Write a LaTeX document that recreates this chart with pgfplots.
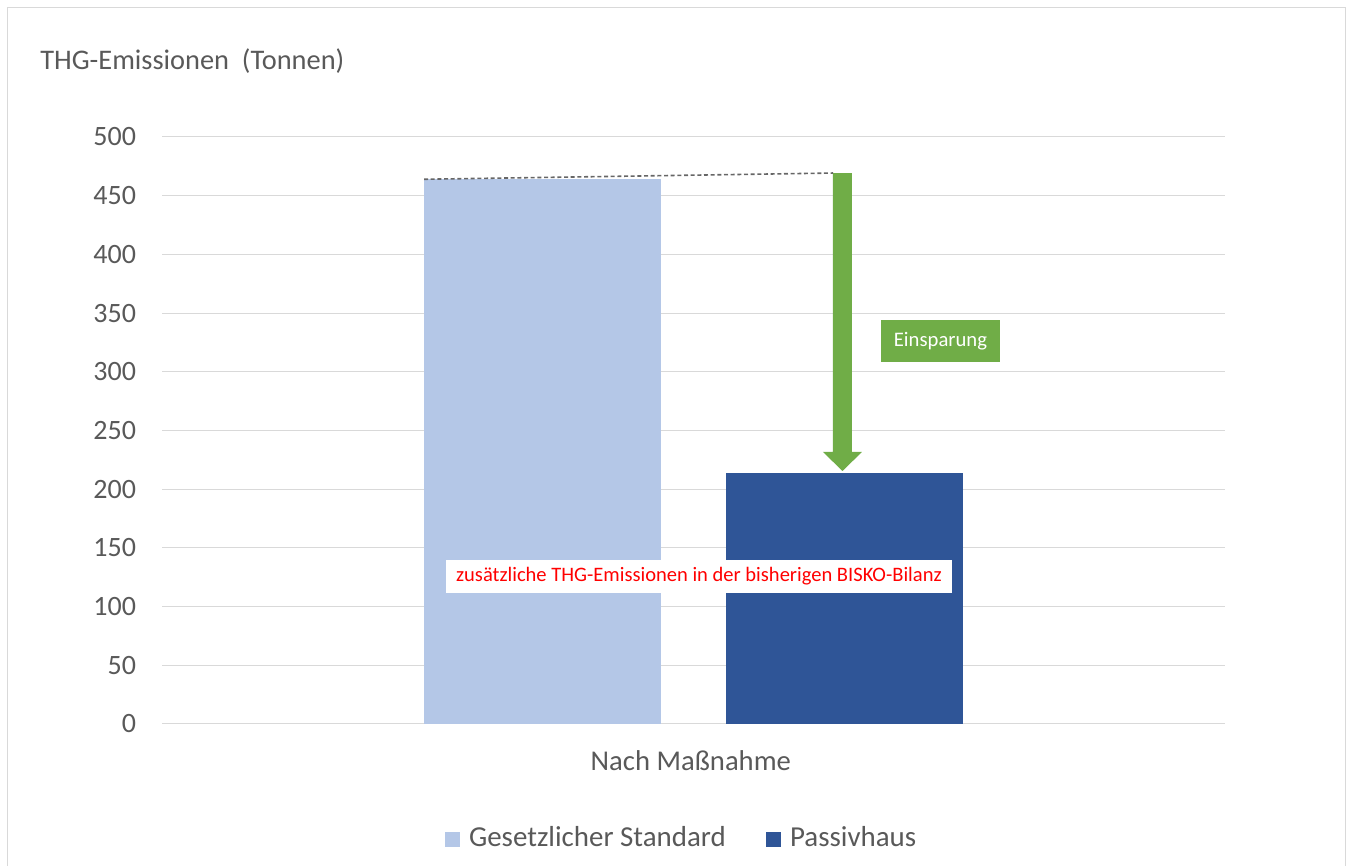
\documentclass[border=0pt]{standalone}
\usepackage{pgfplots}
\pgfplotsset{compat=1.18}
\usepackage{fontspec}
\setmainfont{Carlito}
\definecolor{txt}{HTML}{595959}
\definecolor{gridc}{HTML}{D9D9D9}
\definecolor{bar1}{HTML}{B4C7E7}
\definecolor{bar2}{HTML}{2F5597}
\definecolor{grn}{HTML}{70AD47}
\begin{document}
\begin{tikzpicture}[x=0.75pt,y=0.75pt]
\useasboundingbox (0,0) rectangle (1346,866);
\draw[gridc, line width=0.75pt] (7,0) -- (7,858) -- (1345,858) -- (1345,0);
\node[anchor=base west, text=txt, font=\fontsize{21.3}{25}\selectfont, inner sep=0pt] at (40,796) {THG-Emissionen\ \ (Tonnen)};
\begin{axis}[at={(121.5pt,106.5pt)}, anchor=south west,
  width=797.25pt, height=440.25pt, scale only axis,
  xmin=-1, xmax=1, ymin=0, ymax=500,
  ytick={0,50,...,500}, xtick={0}, xticklabels={Nach Maßnahme},
  axis line style={draw=none}, major tick length=0pt,
  ymajorgrids, grid style={gridc, line width=0.75pt},
  /pgf/number format/assume math mode=true,
  ticklabel style={font=\fontsize{21}{25}\selectfont, text=txt},
  yticklabel style={xshift=-16pt},
  xticklabel style={anchor=base, yshift=-35pt, xshift=-2pt, font=\fontsize{21.5}{25}\selectfont},
  legend style={at={(0.489,-0.194)}, anchor=center, draw=none, fill=none,
    legend columns=2, font=\fontsize{21.7}{25}\selectfont, text=txt,
    /tikz/every odd column/.append style={column sep=5pt},
    /tikz/every even column/.append style={column sep=28pt}},
  legend cell align=left,
  legend image code/.code={\fill[#1] (0pt,-7pt) rectangle (11.25pt,4.25pt);},
]
\addplot[ybar, bar width=0.446, bar shift=0pt, fill=bar1, draw=none] coordinates {(-0.284,464)};
\addlegendentry{Gesetzlicher Standard}
\addplot[ybar, bar width=0.446, bar shift=0pt, fill=bar2, draw=none] coordinates {(0.284,214)};
\addlegendentry{Passivhaus}
\draw[densely dashed, black!60, line width=1.2pt] (axis cs:-0.507,464) -- (axis cs:0.2625,469.3);
\fill[grn] (axis cs:0.2624,469.3) -- (axis cs:0.2982,469.3) -- (axis cs:0.2982,231.7) -- (axis cs:0.3170,231.7) -- (axis cs:0.2803,215.5) -- (axis cs:0.2436,231.7) -- (axis cs:0.2624,231.7) -- cycle;
\node[fill=grn, text=white, minimum width=89.25pt, minimum height=31.5pt, inner sep=0pt, font=\fontsize{15.5}{18}\selectfont] at (axis cs:0.4647,326.2) {Einsparung};
\node[fill=white, text=red, minimum width=379.5pt, minimum height=24.75pt, inner sep=0pt, font=\fontsize{15.4}{18}\selectfont] at (axis cs:0.0103,125.6) {zusätzliche THG-Emissionen in der bisherigen BISKO-Bilanz};
\end{axis}
\end{tikzpicture}
\end{document}
